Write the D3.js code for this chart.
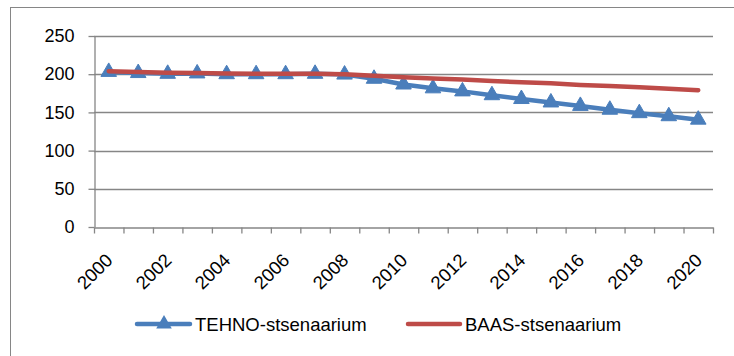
<!DOCTYPE html>
<html>
<head>
<meta charset="utf-8">
<script src="https://cdn.jsdelivr.net/npm/d3@7"></script>
<style>
  body { margin: 0; background: #fff; }
  svg { display: block; }
</style>
</head>
<body>
<div id="container"></div>
<script>
let width = 734
let height = 356

margin = ({ top: 36, right: 21, bottom: 129, left: 94 })

// data
const years = d3.range(2000, 2021)
const tehno = [203, 201.5, 200.5, 201, 200, 200, 200, 200.5, 199.5, 194, 186.5, 181.5, 177.5, 172.5, 167.5, 163, 158.5, 153.5, 149, 145, 140.5]
const baas = [204, 203, 202, 201.5, 201, 200.5, 200.5, 200.5, 200, 198, 196, 194.5, 193, 191, 189.5, 188, 186, 184.5, 183, 181, 179]
const yTicks = [0, 50, 100, 150, 200, 250]
const xLabels = [2000, 2002, 2004, 2006, 2008, 2010, 2012, 2014, 2016, 2018, 2020]
const seriesNames = ["TEHNO-stsenaarium", "BAAS-stsenaarium"]

const blue = "#4a7ebb"
const red = "#be4b48"
const gridColor = "#868686"
const font = "Liberation Sans, Arial, sans-serif"

let x = d3.scaleLinear()
    .domain([1999.5, 2020.5])
    .range([margin.left, width - margin.right])

let y = d3.scaleLinear()
    .domain([0, 250])
    .range([height - margin.bottom, margin.top])

let svg = d3.select("#container")
    .append("svg")
    .attr("width", width)
    .attr("height", height)
    .style("font-family", font)

// outer chart frame (cut off at right and bottom)
svg.append("rect")
    .attr("x", 10.5)
    .attr("y", 7.5)
    .attr("width", 900)
    .attr("height", 500)
    .attr("fill", "none")
    .attr("stroke", gridColor)
    .attr("stroke-width", 1)

// gridlines
svg.append("g")
    .selectAll("line")
    .data(yTicks.filter(d => d > 0))
    .join("line")
    .attr("x1", margin.left)
    .attr("x2", width - margin.right)
    .attr("y1", d => Math.round(y(d)) + 0.5)
    .attr("y2", d => Math.round(y(d)) + 0.5)
    .attr("stroke", gridColor)
    .attr("stroke-width", 1.3)

//Y Axis
let yAxis = g => g
    .attr("transform", `translate(${margin.left + 0.5},0)`)
    .call(d3.axisLeft(y).tickValues(yTicks).tickSize(6).tickPadding(14).tickSizeOuter(0))
    .call(g => g.selectAll("line, path").attr("stroke", gridColor).attr("stroke-width", 1.3))
    .call(g => g.selectAll("text").attr("fill", "#000").style("font-size", "18px").style("font-family", font))

//X Axis - tick marks between categories
let xAxis = g => g
    .attr("transform", `translate(0,${Math.round(y(0)) + 0.5})`)
    .call(d3.axisBottom(x).tickValues(d3.range(1999.5, 2021, 1)).tickFormat("").tickSize(6).tickSizeOuter(0))
    .call(g => g.selectAll("line, path").attr("stroke", gridColor).attr("stroke-width", 1.3))

let xLabelAxis = g => g
    .attr("transform", `translate(0,${Math.round(y(0)) + 0.5})`)
    .call(d3.axisBottom(x).tickValues(xLabels).tickFormat(d3.format("d")).tickSize(0))
    .call(g => g.select(".domain").remove())
    .call(g => g.selectAll("text")
        .attr("fill", "#000")
        .style("font-size", "18.5px")
        .style("font-family", font)
        .attr("text-anchor", "end")
        .attr("dy", null)
        .attr("y", 0)
        .attr("transform", "translate(4.5,34) rotate(-45)"))

svg.append("g").call(yAxis)
svg.append("g").call(xAxis)
svg.append("g").call(xLabelAxis)

let line = d3.line()
    .x((d, i) => x(years[i]))
    .y(d => y(d))

svg.append("path")
    .datum(tehno)
    .attr("fill", "none")
    .attr("stroke", blue)
    .attr("stroke-width", 4.5)
    .attr("stroke-linejoin", "round")
    .attr("d", line)

let tri = d3.symbol().type(d3.symbolTriangle).size(105)

svg.append("g")
    .selectAll("path")
    .data(tehno)
    .join("path")
    .attr("transform", (d, i) => `translate(${x(years[i])},${y(d)})`)
    .attr("d", tri)
    .attr("fill", blue)
    .attr("stroke", blue)
    .attr("stroke-width", 1)

svg.append("path")
    .datum(baas)
    .attr("fill", "none")
    .attr("stroke", red)
    .attr("stroke-width", 4.5)
    .attr("stroke-linejoin", "round")
    .attr("stroke-linecap", "round")
    .attr("d", line)

// legend
let legendY = 324
let legend = svg.append("g")

legend.append("line")
    .attr("x1", 137).attr("x2", 190)
    .attr("y1", legendY).attr("y2", legendY)
    .attr("stroke", blue).attr("stroke-width", 4.5).attr("stroke-linecap", "round")
legend.append("path")
    .attr("transform", `translate(164,${legendY})`)
    .attr("d", tri)
    .attr("fill", blue)
legend.append("text")
    .attr("x", 195).attr("y", 331)
    .style("font-size", "18.5px")
    .text(seriesNames[0])

legend.append("line")
    .attr("x1", 408).attr("x2", 460)
    .attr("y1", legendY).attr("y2", legendY)
    .attr("stroke", red).attr("stroke-width", 4.5).attr("stroke-linecap", "round")
legend.append("text")
    .attr("x", 465).attr("y", 331)
    .style("font-size", "18.5px")
    .text(seriesNames[1])
</script>
</body>
</html>
